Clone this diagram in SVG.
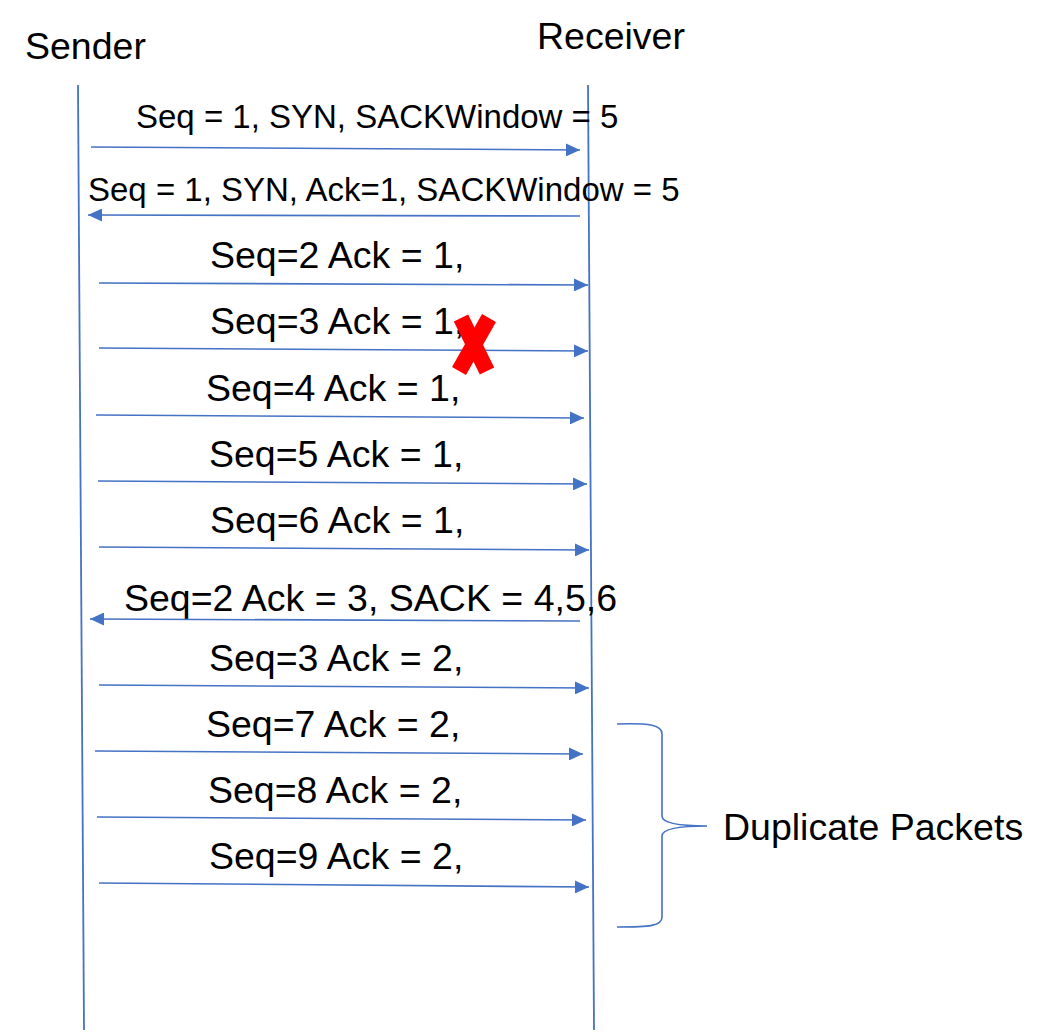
<svg xmlns="http://www.w3.org/2000/svg" width="1047" height="1032" viewBox="0 0 1047 1032">
<defs>
<marker id="ah" markerUnits="userSpaceOnUse" markerWidth="15" markerHeight="13" refX="14" refY="6.5" orient="auto">
<path d="M0,0 L14,6.5 L0,13 z" fill="#4472C4"/>
</marker>
<style>
.t{font-family:"Liberation Sans",Arial,sans-serif;fill:#000}
.big{font-size:37.5px}
.sm{font-size:33px}
.life{stroke:#4472C4;stroke-width:1.8;fill:none}
.msg{stroke:#4472C4;stroke-width:1.6;fill:none;marker-end:url(#ah)}
</style>
</defs>
<rect width="1047" height="1032" fill="#fff"/>
<g id="sender">
<text class="t big" x="25" y="59">Sender</text>
<line class="life" x1="78" y1="85" x2="84" y2="1030"/>
</g>
<g id="receiver">
<text class="t big" x="537" y="49">Receiver</text>
<line class="life" x1="588" y1="85" x2="594" y2="1030"/>
</g>
<g id="labels">
<text class="t sm" x="136" y="128">Seq = 1, SYN, SACKWindow = 5</text>
<text class="t sm" x="88" y="201">Seq = 1, SYN, Ack=1, SACKWindow = 5</text>
<text class="t big" x="210" y="268">Seq=2 Ack = 1,</text>
<text class="t big" x="210" y="334">Seq=3 Ack = 1,</text>
<text class="t big" x="206" y="401">Seq=4 Ack = 1,</text>
<text class="t big" x="209" y="467">Seq=5 Ack = 1,</text>
<text class="t big" x="210" y="533">Seq=6 Ack = 1,</text>
<text class="t big" x="124" y="611">Seq=2 Ack = 3, SACK = 4,5,6</text>
<text class="t big" x="209" y="671">Seq=3 Ack = 2,</text>
<text class="t big" x="206" y="737">Seq=7 Ack = 2,</text>
<text class="t big" x="208" y="803">Seq=8 Ack = 2,</text>
<text class="t big" x="209" y="869">Seq=9 Ack = 2,</text>
</g>
<g id="connectors">
<line class="msg" x1="91" y1="147" x2="580" y2="150"/>
<line class="msg" x1="580" y1="216" x2="88" y2="215"/>
<line class="msg" x1="99" y1="283" x2="588" y2="285"/>
<line class="msg" x1="99" y1="348" x2="588" y2="351"/>
<line class="msg" x1="96" y1="415" x2="584" y2="418"/>
<line class="msg" x1="98" y1="481" x2="587" y2="484"/>
<line class="msg" x1="99" y1="547" x2="589" y2="550"/>
<line class="msg" x1="580" y1="621" x2="90" y2="619"/>
<line class="msg" x1="99" y1="685" x2="589" y2="688"/>
<line class="msg" x1="95" y1="751" x2="583" y2="754"/>
<line class="msg" x1="97" y1="817" x2="586" y2="820"/>
<line class="msg" x1="99" y1="883" x2="589" y2="887"/>
</g>
<g id="loss-mark">
<line x1="461" y1="318" x2="487" y2="371" stroke="#FF0000" stroke-width="16"/>
<line x1="489" y1="318" x2="459" y2="371" stroke="#FF0000" stroke-width="16"/>
</g>
<g id="duplicate-packets">
<path d="M617,724 C650,723 662,725 662,734 L662,816 C662,824 682,826 707,826 C682,826 662,828 662,836 L662,917 C662,926 650,927 617,927" fill="none" stroke="#4472C4" stroke-width="1.6"/>
<text class="t big" x="723" y="840">Duplicate Packets</text>
</g>
</svg>
